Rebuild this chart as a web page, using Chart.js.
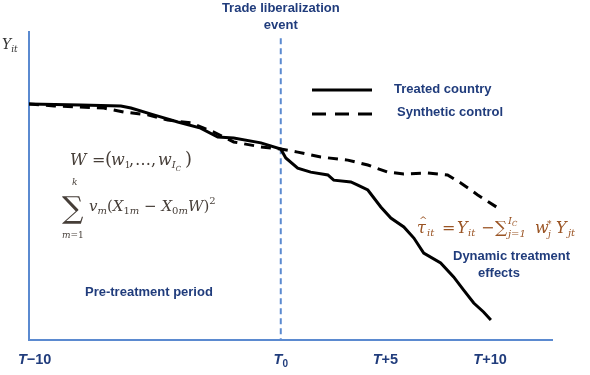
<!DOCTYPE html>
<html>
<head>
<meta charset="utf-8">
<script src="https://cdn.jsdelivr.net/npm/chart.js@4.4.1/dist/chart.umd.min.js"></script>
<style>
  html, body { margin: 0; padding: 0; background: #fff; }
  #wrap { width: 590px; height: 375px; position: relative; }
</style>
</head>
<body>
<div id="wrap"><canvas id="chart" width="590" height="375"></canvas></div>
<script>
// Time relative to the event (T0 = 0); outcome in arbitrary units (0..100)
const treatedX = [-12.03, -9.56, -7.64, -7.16, -6.07, -4.92, -3.83, -3.01, -2.25, -0.95, 0, 0.24, 0.81, 1.43, 2.25, 2.53, 3.35, 3.68, 4.16, 4.78, 5.26, 5.88, 6.36, 6.83, 7.64, 8.26, 8.74, 9.22, 9.69, 10.04]
const treatedY = [76.6, 76.3, 76.0, 75.3, 73.1, 70.8, 68.8, 65.9, 65.6, 64.0, 62.0, 59.1, 55.8, 54.5, 53.6, 51.9, 51.3, 50.3, 48.7, 43.2, 39.6, 36.7, 33.1, 28.2, 25.0, 20.5, 16.2, 12.0, 9.1, 6.5]
const synthX = [-12.03, -10.83, -8.45, -7.5, -6.36, -5.4, -4.3, -3.2, -2.25, -0.95, 0, 0.81, 1.91, 3.2, 4.16, 5.11, 5.88, 7.02, 7.97, 8.6, 9.41, 10.37]
const synthY = [76.6, 76.0, 75.3, 74.0, 73.1, 71.4, 70.5, 67.5, 64.3, 62.7, 62.0, 61.0, 59.4, 58.4, 56.8, 54.5, 53.9, 54.2, 53.6, 51.0, 47.1, 42.9]
const tickValues = [-11.76, 0, 5, 10]
const tickLabels = [["T", "\u221210"], ["T", "0"], ["T", "+5"], ["T", "+10"]]
const eventX = 0
const eventTop = 98

const toPoints = (xs, ys) => xs.map((x, i) => ({ x: x, y: ys[i] }))

const NAVY = "#203c7c"
const AXIS_BLUE = "#5b8ad0"
const SANS = '"Liberation Sans", Arial, sans-serif'
const SERIF = '"DejaVu Serif", "Liberation Serif", serif'

// draw a row of text pieces (used for the formulas); r.x pins a piece
function drawRuns(ctx, x, y, runs) {
  runs.forEach((r) => {
    if (r.x !== undefined) x = r.x
    ctx.font = `${r.st || "italic"} ${r.s}px ${SERIF}`
    ctx.fillText(r.t, x, y + (r.dy || 0))
    if (r.adv !== false) x += ctx.measureText(r.t).width + (r.gap || 0)
  })
  return x
}

const annotations = {
  id: "annotations",
  afterDraw(chart) {
    const ctx = chart.ctx
    const xs = chart.scales.x
    const area = chart.chartArea
    ctx.save()

    // tick labels
    ctx.fillStyle = NAVY
    ctx.textBaseline = "middle"
    tickValues.forEach((v, i) => {
      const [a, b] = tickLabels[i]
      const sub = b === "0"
      const fa = `bold italic 14.5px ${SANS}`
      const fb = sub ? `bold 10px ${SANS}` : `bold 14.5px ${SANS}`
      ctx.font = fa
      const wa = ctx.measureText(a).width
      ctx.font = fb
      const wb = ctx.measureText(b).width
      const px = xs.getPixelForValue(v) - (wa + wb) / 2
      ctx.font = fa
      ctx.fillText(a, px, area.bottom + 20)
      ctx.font = fb
      ctx.fillText(b, px + wa, area.bottom + 20 + (sub ? 4 : 0))
    })

    // title above the event line
    ctx.textAlign = "center"
    ctx.font = `bold 13px ${SANS}`
    const ex = xs.getPixelForValue(eventX)
    ctx.fillText("Trade liberalization", ex, 8)
    ctx.fillText("event", ex, 25)

    // legend
    ctx.textAlign = "left"
    ctx.fillText("Treated country", 394, 89)
    ctx.fillText("Synthetic control", 397, 112)
    ctx.strokeStyle = "#000"
    ctx.lineWidth = 3
    ctx.beginPath(); ctx.moveTo(312, 90); ctx.lineTo(372, 90); ctx.stroke()
    ctx.setLineDash([14, 9])
    ctx.beginPath(); ctx.moveTo(312, 114); ctx.lineTo(372, 114); ctx.stroke()
    ctx.setLineDash([])

    ctx.fillText("Pre-treatment period", 85, 292)
    ctx.fillText("Dynamic treatment", 453, 256)
    ctx.fillText("effects", 478, 273)

    // y axis label
    ctx.textBaseline = "alphabetic"
    ctx.fillStyle = "#333"
    drawRuns(ctx, 2, 49, [
      { t: "Y", s: 14 },
      { t: "it", s: 9, dy: 3 }
    ])

    // weights formula
    ctx.fillStyle = "#463e38"
    drawRuns(ctx, 70, 165, [
      { t: "W", s: 16 },
      { t: "=", s: 16, st: "normal", x: 92 },
      { t: "(", s: 18, st: "normal", x: 105 },
      { t: "w", s: 16, x: 111 },
      { t: "1", s: 9, dy: 3, st: "normal" },
      { t: ",", s: 16, st: "normal", x: 129 },
      { t: "\u2026", s: 16, st: "normal", x: 135 },
      { t: ",", s: 16, st: "normal", x: 151 },
      { t: "w", s: 16, x: 158 },
      { t: "I", s: 10, dy: 3 },
      { t: "C", s: 7, dy: 6 },
      { t: ")", s: 18, st: "normal", x: 185 }
    ])

    // objective
    ctx.font = `normal 30px ${SERIF}`
    ctx.fillText("\u2211", 62, 218)
    drawRuns(ctx, 72, 185, [{ t: "k", s: 9 }])
    drawRuns(ctx, 62, 238, [
      { t: "m", s: 9 },
      { t: "=1", s: 9, st: "normal" }
    ])
    drawRuns(ctx, 89, 211, [
      { t: "v", s: 15 },
      { t: "m", s: 10, dy: 3 },
      { t: "(", s: 15, st: "normal" },
      { t: "X", s: 15 },
      { t: "1", s: 10, dy: 3, st: "normal" },
      { t: "m", s: 10, dy: 3 },
      { t: " \u2212 ", s: 15, st: "normal" },
      { t: "X", s: 15 },
      { t: "0", s: 10, dy: 3, st: "normal" },
      { t: "m", s: 10, dy: 3 },
      { t: "W", s: 15 },
      { t: ")", s: 15, st: "normal" },
      { t: "2", s: 10, dy: -7, st: "normal" }
    ])

    // treatment effect formula
    ctx.fillStyle = "#9a5424"
    drawRuns(ctx, 417, 233, [
      { t: "\u03c4", s: 16 },
      { t: "it", s: 10, dy: 3, x: 427 },
      { t: "=", s: 16, st: "normal", x: 442 },
      { t: "Y", s: 16, x: 457 },
      { t: "it", s: 10, dy: 3, x: 468 },
      { t: "\u2212", s: 16, st: "normal", x: 481 },
      { t: "\u2211", s: 17, st: "normal", x: 495 },
      { t: "I", s: 10, dy: -9, x: 508 },
      { t: "C", s: 7, dy: -7 },
      { t: "j=1", s: 10, dy: 4, x: 508 },
      { t: "w", s: 16, x: 535 },
      { t: "*", s: 9, dy: -6, st: "normal", x: 547 },
      { t: "j", s: 9, dy: 4, x: 548 },
      { t: "Y", s: 16, x: 556 },
      { t: "jt", s: 10, dy: 3, x: 568 }
    ])
    drawRuns(ctx, 419, 223, [{ t: "^", s: 10, st: "normal" }])

    ctx.restore()
  }
}

new Chart(document.getElementById("chart"), {
  type: "line",
  data: {
    datasets: [
      {
        label: "Treated country",
        data: toPoints(treatedX, treatedY),
        borderColor: "#000",
        borderWidth: 3,
        pointRadius: 0,
        order: 0
      },
      {
        label: "Synthetic control",
        data: toPoints(synthX, synthY),
        borderColor: "#000",
        borderWidth: 3,
        borderDash: [10, 7],
        pointRadius: 0,
        order: 1
      },
      {
        label: "Event",
        data: [{ x: eventX, y: eventTop }, { x: eventX, y: 0 }],
        borderColor: AXIS_BLUE,
        borderWidth: 2,
        borderDash: [6, 4],
        pointRadius: 0,
        order: 2
      }
    ]
  },
  options: {
    responsive: false,
    animation: false,
    devicePixelRatio: 1,
    layout: { padding: { left: 29, right: 38, top: 32, bottom: 35 } },
    scales: {
      x: {
        type: "linear",
        min: -12.03,
        max: 12.96,
        grid: { display: false, drawTicks: false },
        border: { color: AXIS_BLUE, width: 2 },
        ticks: { display: false }
      },
      y: {
        min: 0,
        max: 100,
        grid: { display: false, drawTicks: false },
        border: { color: AXIS_BLUE, width: 2 },
        ticks: { display: false }
      }
    },
    plugins: {
      legend: { display: false },
      tooltip: { enabled: false }
    }
  },
  plugins: [annotations]
})
</script>
</body>
</html>
